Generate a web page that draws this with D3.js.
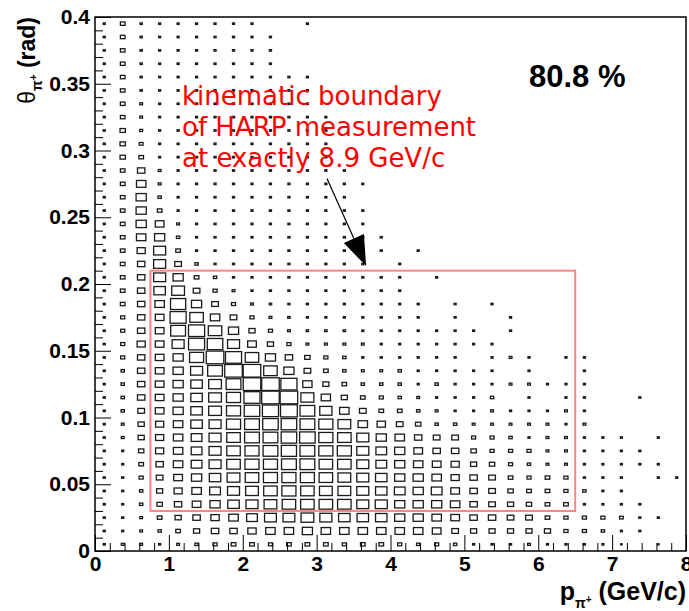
<!DOCTYPE html>
<html><head><meta charset="utf-8">
<script src="https://cdn.jsdelivr.net/npm/d3@7"></script>
<style>body{margin:0;background:#fff;} svg{display:block;}</style>
</head><body>
<svg id="c" width="689" height="611"></svg>
<script>
// ---- data ----
// lower edges of the momentum bins (GeV/c), bin width 0.25
const pBinLow = [0,0.25,0.5,0.75,1,1.25,1.5,1.75,2,2.25,2.5,2.75,3,3.25,3.5,3.75,
                 4,4.25,4.5,4.75,5,5.25,5.5,5.75,6,6.25,6.5,6.75,7,7.25,7.5,7.75];
// lower edges of the angle bins (rad), bin width 0.01, listed top row first
const thetaBinLow = [0.39,0.38,0.37,0.36,0.35,0.34,0.33,0.32,0.31,0.30,
                     0.29,0.28,0.27,0.26,0.25,0.24,0.23,0.22,0.21,0.20,
                     0.19,0.18,0.17,0.16,0.15,0.14,0.13,0.12,0.11,0.10,
                     0.09,0.08,0.07,0.06,0.05,0.04,0.03,0.02,0.01,0.00];
// relative bin content (0-100), one row per theta bin (same order as thetaBinLow)
const binContent = [
 [11,25,12,11,11,11,11,11,11,0,0,11,0,0,0,0,0,0,0,0,0,0,0,0,0,0,0,0,0,0,0,0],
 [11,25,12,11,11,11,11,11,11,11,0,0,0,0,0,0,0,0,0,0,0,0,0,0,0,0,0,0,0,0,0,0],
 [11,25,12,11,11,11,11,11,11,11,0,0,0,0,0,0,0,0,0,0,0,0,0,0,0,0,0,0,0,0,0,0],
 [11,25,12,11,11,11,11,11,11,11,0,0,0,0,0,0,0,0,0,0,0,0,0,0,0,0,0,0,0,0,0,0],
 [11,25,12,11,11,11,11,11,11,11,11,11,0,0,0,0,0,0,0,0,0,0,0,0,0,0,0,0,0,0,0,0],
 [11,25,12,11,11,11,11,11,11,11,11,11,0,0,0,0,0,0,0,0,0,0,0,0,0,0,0,0,0,0,0,0],
 [11,25,15,11,11,11,11,11,11,11,11,11,0,0,0,0,0,0,0,0,0,0,0,0,0,0,0,0,0,0,0,0],
 [11,25,15,11,11,11,11,11,11,11,11,11,11,0,0,0,0,0,0,0,0,0,0,0,0,0,0,0,0,0,0,0],
 [11,29,16,11,11,11,11,11,11,11,11,11,11,0,0,0,0,0,0,0,0,0,0,0,0,0,0,0,0,0,0,0],
 [11,29,20,11,11,11,11,11,11,11,11,11,11,0,0,0,0,0,0,0,0,0,0,0,0,0,0,0,0,0,0,0],
 [11,29,25,11,11,11,11,11,11,11,11,11,11,0,0,0,0,0,0,0,0,0,0,0,0,0,0,0,0,0,0,0],
 [11,25,40,15,11,11,11,11,11,11,11,11,11,11,0,0,0,0,0,0,0,0,0,0,0,0,0,0,0,0,0,0],
 [11,25,51,15,11,11,11,11,11,11,11,11,11,11,11,0,0,0,0,0,0,0,0,0,0,0,0,0,0,0,0,0],
 [11,25,55,18,11,11,11,11,11,11,11,11,11,11,0,0,0,0,0,0,0,0,0,0,0,0,0,0,0,0,0,0],
 [11,25,55,25,11,11,11,11,11,11,11,11,11,11,11,0,0,0,0,0,0,0,0,0,0,0,0,0,0,0,0,0],
 [11,25,55,47,15,11,11,11,11,11,11,11,11,11,11,0,0,0,0,0,0,0,0,0,0,0,0,0,0,0,0,0],
 [11,25,51,55,18,11,11,11,11,11,11,11,11,11,11,11,0,0,0,0,0,0,0,0,0,0,0,0,0,0,0,0],
 [11,25,44,65,25,11,11,11,11,11,11,11,11,11,0,11,0,11,0,0,0,0,0,0,0,0,0,0,0,0,0,0],
 [11,25,40,65,36,18,11,11,11,11,11,11,11,11,11,0,11,0,0,0,0,0,0,0,0,0,0,0,0,0,0,0],
 [11,25,40,65,55,25,18,11,11,11,11,11,11,11,11,11,11,0,11,0,0,0,0,0,0,0,0,0,0,0,0,0],
 [11,25,40,62,69,36,22,15,11,11,11,11,11,11,11,11,11,0,0,0,0,0,0,0,0,0,0,0,0,0,0,0],
 [11,25,40,51,82,55,36,22,15,13,11,11,11,11,11,11,11,11,0,11,0,11,0,0,0,0,0,0,0,0,0,0],
 [11,22,40,47,87,73,51,36,22,15,13,11,11,11,11,11,11,11,0,11,0,0,11,0,0,0,0,0,0,0,0,0],
 [11,22,40,47,80,87,73,55,33,22,15,13,13,13,11,11,11,11,11,11,11,0,11,0,0,0,0,0,0,0,0,0],
 [11,22,44,47,65,87,84,65,47,33,22,15,15,15,15,11,11,11,11,11,11,11,0,0,0,0,0,0,0,0,0,0],
 [11,22,40,47,55,76,95,87,73,55,40,29,22,18,11,11,11,11,11,11,0,11,15,11,0,11,11,0,0,0,0,0],
 [11,18,40,47,55,65,80,95,95,73,55,36,25,18,15,15,18,11,11,11,11,11,0,11,0,0,11,0,0,0,0,0],
 [11,18,40,47,55,62,69,80,95,95,87,50,33,25,18,18,18,11,18,11,11,11,15,15,11,11,11,0,0,0,0,0],
 [11,18,40,47,55,62,69,76,87,95,95,70,50,33,25,22,18,15,11,11,11,18,0,11,0,11,11,0,0,11,0,0],
 [11,18,36,47,55,62,69,76,84,87,91,80,66,51,36,25,25,18,15,11,11,15,11,11,11,15,11,0,0,0,0,0],
 [11,15,33,44,51,62,65,76,80,84,84,80,76,69,51,45,36,29,18,18,15,15,15,15,15,11,15,0,0,0,0,0],
 [11,15,33,44,51,58,65,73,80,80,84,84,76,73,65,55,51,40,36,36,22,22,18,11,15,15,11,11,11,0,11,0],
 [11,11,29,44,51,58,65,73,76,80,82,80,76,76,65,58,55,47,40,40,29,22,22,22,15,15,11,11,11,11,0,0],
 [11,11,25,40,51,58,65,73,76,76,80,80,73,73,65,58,55,51,47,44,33,29,22,18,15,15,11,11,11,11,11,0],
 [11,11,22,36,47,55,62,69,73,76,76,76,73,69,65,62,55,55,51,44,40,36,25,22,25,22,11,11,11,0,11,11],
 [11,11,18,33,44,51,58,65,69,73,76,73,69,69,65,62,58,55,58,47,40,36,29,25,25,22,18,11,11,0,0,0],
 [11,11,18,29,40,47,55,62,65,69,73,73,73,73,65,65,55,55,55,51,40,36,33,29,25,25,11,11,11,11,0,0],
 [11,11,15,25,33,40,45,51,58,64,64,69,65,62,62,62,55,55,51,47,40,40,36,36,25,22,22,22,20,11,11,0],
 [11,11,15,18,25,33,40,40,45,51,51,55,51,51,51,51,51,51,47,36,33,33,33,33,33,22,22,18,11,11,0,0],
 [11,15,15,11,15,18,22,25,25,22,25,25,25,22,25,25,22,18,22,18,11,11,11,15,11,11,11,11,8,0,8,0]
];
const xTickValues = [0,1,2,3,4,5,6,7,8];
const xMinorValues = [0.2,0.4,0.6,0.8,1.2,1.4,1.6,1.8,2.2,2.4,2.6,2.8,3.2,3.4,3.6,3.8,4.2,4.4,4.6,4.8,
                      5.2,5.4,5.6,5.8,6.2,6.4,6.6,6.8,7.2,7.4,7.6,7.8];
const yTickValues = [0,0.05,0.1,0.15,0.2,0.25,0.3,0.35,0.4];
const yMinorValues = [0.01,0.02,0.03,0.04,0.06,0.07,0.08,0.09,0.11,0.12,0.13,0.14,0.16,0.17,0.18,0.19,
                      0.21,0.22,0.23,0.24,0.26,0.27,0.28,0.29,0.31,0.32,0.33,0.34,0.36,0.37,0.38,0.39];
// kinematic boundary box: [pMin, pMax], [thetaMin, thetaMax]
const boundaryP = [0.75, 6.5];
const boundaryTheta = [0.03, 0.21];
// arrow: from (p, theta) to (p, theta)
const arrowFrom = [3.14, 0.279];
const arrowTo = [3.67, 0.2135];
const noteLines = ["kinematic boundary", "of HARP measurement", "at exactly 8.9 GeV/c"];
const fractionText = "80.8 %";

// ---- drawing ----
const x = d3.scaleLinear().domain([0, 8]).range([95, 686]);
const y = d3.scaleLinear().domain([0, 0.4]).range([551, 17]);
const frac = d3.scaleLinear().domain([0, 100]).range([0, 1]);
const pW = 0.25, tW = 0.01;
const svg = d3.select('#c');
svg.append('rect').attr('width',689).attr('height',611).attr('fill','#fff');

const cells = [];
binContent.forEach((row, r) => row.forEach((v, i) => {
  if (v > 0) cells.push({p: pBinLow[i], t: thetaBinLow[r], v});
}));
svg.append('g').selectAll('rect').data(cells).join('rect')
  .attr('x', d => { const a = x(d.p), b = x(d.p + pW), w = (b - a) * frac(d.v); return (a + b) / 2 - w / 2; })
  .attr('y', d => { const a = y(d.t + tW), b = y(d.t), h = (b - a) * frac(d.v); return (a + b) / 2 - h / 2; })
  .attr('width', d => (x(d.p + pW) - x(d.p)) * frac(d.v))
  .attr('height', d => (y(d.t) - y(d.t + tW)) * frac(d.v))
  .attr('fill', 'none').attr('stroke', '#1a1a1a').attr('stroke-width', 1.3);

// boundary box
svg.append('rect')
  .attr('x', x(boundaryP[0])).attr('y', y(boundaryTheta[1]))
  .attr('width', x(boundaryP[1]) - x(boundaryP[0]))
  .attr('height', y(boundaryTheta[0]) - y(boundaryTheta[1]))
  .attr('fill', 'none').attr('stroke', '#ff8585').attr('stroke-width', 2);

// axes
const font = "'Liberation Sans', Arial, Helvetica, sans-serif";
const fmt = d => String(+d.toFixed(2));
const gy = svg.append('g').attr('transform', `translate(${x(0)},0)`);
gy.call(d3.axisLeft(y).tickValues(yTickValues).tickSizeInner(-16).tickSizeOuter(0).tickPadding(5).tickFormat(fmt));
const gy2 = svg.append('g').attr('transform', `translate(${x(0)},0)`);
gy2.call(d3.axisLeft(y).tickValues(yMinorValues).tickSizeInner(-8).tickSizeOuter(0).tickFormat(''));
const gx = svg.append('g').attr('transform', `translate(0,${y(0)})`);
gx.call(d3.axisBottom(x).tickValues(xTickValues).tickSizeInner(-16).tickSizeOuter(0).tickPadding(5).tickFormat(fmt));
const gx2 = svg.append('g').attr('transform', `translate(0,${y(0)})`);
gx2.call(d3.axisBottom(x).tickValues(xMinorValues).tickSizeInner(-8).tickSizeOuter(0).tickFormat(''));
[gy, gy2, gx, gx2].forEach(g => {
  g.select('.domain').remove();
  g.selectAll('line').attr('stroke', '#000').attr('stroke-width', 1);
  g.selectAll('text').attr('font-family', font).attr('font-weight', 'bold').attr('font-size', 21).attr('fill', '#000');
});

// frame
svg.append('rect').attr('x', x(0)).attr('y', y(0.4)).attr('width', x(8) - x(0)).attr('height', y(0) - y(0.4))
  .attr('fill', 'none').attr('stroke', '#000').attr('stroke-width', 1.5);

// axis titles
const yt = svg.append('text').attr('transform', `translate(35,${y(0.4)}) rotate(-90)`)
  .attr('text-anchor', 'end').attr('font-family', font).attr('font-weight', 'bold').attr('font-size', 23).attr('fill', '#000');
yt.append('tspan').attr('font-weight', 'normal').text('θ');
yt.append('tspan').attr('font-size', 14).attr('dy', 7).text('π');
yt.append('tspan').attr('font-size', 10).attr('dy', -5).text('+');
yt.append('tspan').attr('dy', -2).text(' (rad)');

const xt = svg.append('text').attr('x', x(8)).attr('y', 600)
  .attr('text-anchor', 'end').attr('font-family', font).attr('font-weight', 'bold').attr('font-size', 25).attr('fill', '#000');
xt.append('tspan').text('p');
xt.append('tspan').attr('font-size', 14).attr('dy', 8).text('π');
xt.append('tspan').attr('font-size', 10).attr('dy', -5).text('+');
xt.append('tspan').attr('dy', -3).text(' (GeV/c)');

// annotation text
svg.append('g').selectAll('text').data(noteLines).join('text')
  .attr('x', 182).attr('y', (d, i) => 105 + i * 31)
  .attr('font-family', "'DejaVu Sans', sans-serif").attr('font-size', 26).attr('fill', '#ff0000')
  .text(d => d);

// arrow
const ax0 = x(arrowFrom[0]), ay0 = y(arrowFrom[1]), ax1 = x(arrowTo[0]), ay1 = y(arrowTo[1]);
const len = Math.hypot(ax1 - ax0, ay1 - ay0), ux = (ax1 - ax0) / len, uy = (ay1 - ay0) / len;
const hl = 30, hw = 11;
const bx = ax1 - ux * hl, by = ay1 - uy * hl;
svg.append('line').attr('x1', ax0).attr('y1', ay0).attr('x2', bx).attr('y2', by)
  .attr('stroke', '#000').attr('stroke-width', 1.2);
svg.append('polygon')
  .attr('points', [[ax1, ay1], [bx - uy * hw, by + ux * hw], [bx + uy * hw, by - ux * hw]].map(p => p.join(',')).join(' '))
  .attr('fill', '#000');

// fraction label
svg.append('text').attr('x', 529).attr('y', 87).attr('font-family', font).attr('font-weight', 'bold')
  .attr('font-size', 31).attr('fill', '#000').text(fractionText);
</script>
</body></html>
